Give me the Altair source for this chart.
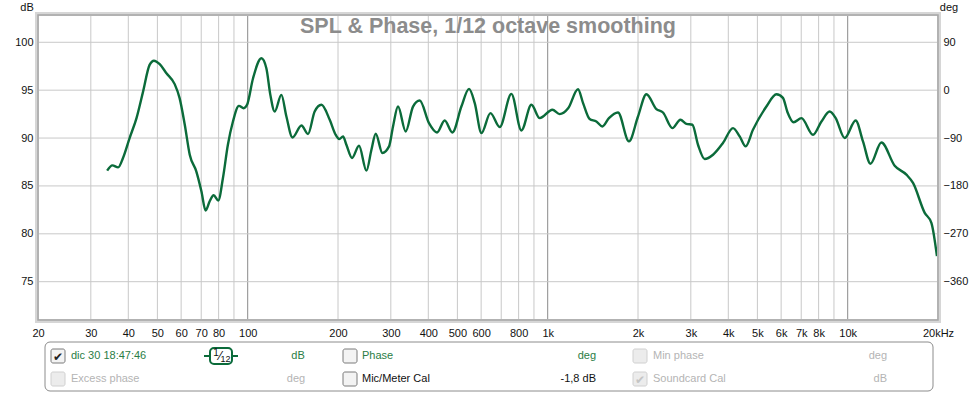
import altair as alt
import pandas as pd

# Measured SPL response (1/12 octave smoothing)
freq_hz = [34.0, 35.4, 37.0, 38.4, 40.4, 42.6, 44.8, 47.1, 48.7, 50.9, 53.6, 57.1,
           59.3, 61.7, 64.1, 67.4, 70.1, 72.4, 74.7, 77.0, 79.8, 82.7, 85.9, 89.3,
           93.5, 97.0, 99.5, 104.2, 111.1, 115.4, 119.0, 123.0, 129.5, 134.6, 141.0,
           151.1, 158.9, 167.2, 176.1, 187.7, 196.0, 202.0, 207.9, 213.3, 222.7,
           235.0, 248.8, 258.5, 267.2, 281.2, 295.9, 305.1, 317.0, 336.3, 355.7,
           374.5, 402.1, 427.6, 453.6, 481.2, 515.6, 546.8, 571.3, 601.4, 644.4,
           691.8, 756.8, 817.2, 882.4, 940.5, 1037, 1096, 1170, 1262, 1312, 1380,
           1453, 1521, 1600, 1715, 1866, 2000, 2133, 2303, 2423, 2605, 2769, 2899,
           3036, 3170, 3337, 3557, 3839, 4147, 4365, 4571, 4833, 5358, 5785, 6084,
           6300, 6600, 7012, 7663, 8175, 8710, 9120, 9772, 10630, 11246, 11907,
           12951, 14343, 15693, 16510, 18060, 19010, 19840]
spl_db = [86.6, 87.15, 86.94, 87.92, 90.0, 92.08, 94.85, 97.64, 98.08, 97.71, 96.77, 95.63,
          94.17, 91.39, 88.26, 86.52, 84.44, 82.43, 83.4, 84.02, 83.47, 85.83, 89.3, 91.73,
          93.36, 93.12, 93.47, 96.25, 98.33, 97.29, 94.51, 92.77, 94.51, 92.25, 90.06,
          91.31, 90.42, 92.77, 93.47, 91.9, 90.4, 89.9, 90.17, 89.3, 87.92,
          89.2, 86.6, 88.78, 90.45, 88.44, 89.13, 91.21, 93.29, 90.69, 93.29,
          93.92, 91.56, 90.58, 91.83, 90.58, 93.29, 95.14, 93.65, 90.52, 92.6,
          91.15, 94.61, 90.79, 93.47, 92.08, 92.95, 92.5, 93.1, 95.1, 93.65, 91.98,
          91.73, 91.21, 92.08, 92.67, 89.65, 92.25, 94.58, 93.02, 92.67, 91.04, 91.91, 91.49,
          91.39, 89.3, 87.81, 88.26, 89.48, 91.04, 90.17, 89.13, 90.86, 93.29, 94.58, 94.2,
          92.7, 91.65, 92.08, 90.34, 91.73, 92.77, 92.08, 90.0, 91.83, 89.65, 87.32,
          89.54, 87.11, 86.18, 85.31, 82.19, 81.15, 77.67]

# Axis ticks and grid positions
x_labels = [20, 30, 40, 50, 60, 70, 80, 100, 200, 300, 400, 500, 600, 800,
            1000, 2000, 3000, 4000, 5000, 6000, 7000, 8000, 10000, 20000]
minor_grid = [30, 40, 50, 60, 70, 80, 90, 200, 300, 400, 500, 600, 700, 800, 900,
              2000, 3000, 4000, 5000, 6000, 7000, 8000, 9000]
decade_grid = [100, 1000, 10000]
db_ticks = [75, 80, 85, 90, 95, 100]
deg_ticks = [90, 0, -90, -180, -270, -360]

DB_DOMAIN = [71.0, 102.85]
DEG_DOMAIN = [(DB_DOMAIN[0] - 95) * 18, (DB_DOMAIN[1] - 95) * 18]

W, H = 900, 305
LEFT, TOP = 38, 15
FONT = "Liberation Sans"
CURVE = "#0b6b3a"
GREEN_TXT = "#2a7d45"
GREY_TXT = "#b4b4b4"

x_scale = alt.Scale(type="log", domain=[20, 20000], nice=False)
y_scale = alt.Scale(domain=DB_DOMAIN, nice=False, zero=False)
one = alt.Data(values=[{}])

x_axis = alt.Axis(
    values=x_labels,
    labelExpr="datum.value >= 20000 ? '20kHz' : (datum.value >= 1000 ? (datum.value / 1000) + 'k' : '' + datum.value)",
    grid=False, domain=False, ticks=False, labelPadding=7, labelFontSize=11,
    labelFont=FONT, labelColor="#111111", labelOverlap=False, labelBound=False,
    labelFlush=False, title=None)
y_axis = alt.Axis(
    values=db_ticks, grid=False, domain=False, ticks=False, labelPadding=5,
    labelFontSize=11, labelFont=FONT, labelColor="#111111", title=None)


def px(x):
    return x - LEFT


def py(y):
    return y - TOP


def text_at(s, x, y, color, size=11, align="left", weight="normal", baseline="middle", font=FONT):
    return alt.Chart(one).mark_text(
        text=s, align=align, baseline=baseline, fontSize=size, color=color,
        font=font, fontWeight=weight
    ).encode(x=alt.value(px(x)), y=alt.value(py(y)))


def box(x0, y0, x1, y1, stroke, fill="white", radius=0, sw=1.0, opacity=1.0):
    return alt.Chart(one).mark_rect(
        stroke=stroke, fill=fill, cornerRadius=radius, strokeWidth=sw, fillOpacity=opacity
    ).encode(x=alt.value(px(x0)), x2=alt.value(px(x1)), y=alt.value(py(y0)), y2=alt.value(py(y1)))


def hline(x0, x1, y, color, sw=1.0):
    return alt.Chart(one).mark_rule(color=color, strokeWidth=sw).encode(
        x=alt.value(px(x0)), x2=alt.value(px(x1)), y=alt.value(py(y)))


def checkbox(x, y, enabled=True, checked=False):
    layers = [box(x, y, x + 14, y + 14,
                  stroke="#7a7a7a" if enabled else "#d0d0d0",
                  fill="#f3f3f3" if enabled else "#ececec", radius=2)]
    if checked:
        layers.append(text_at("\u2714", x + 7, y + 7.5, "#222222" if enabled else "#c4c4c4",
                              size=12, align="center", font="DejaVu Sans"))
    return layers


# Grid (vertical light lines, darker decade lines, horizontal dB lines)
minor = alt.Chart(pd.DataFrame({"f": minor_grid})).mark_rule(color="#c8c8c8", strokeWidth=1).encode(
    x=alt.X("f:Q", scale=x_scale, axis=x_axis))
major = alt.Chart(pd.DataFrame({"f": decade_grid})).mark_rule(color="#8a8a8a", strokeWidth=1).encode(
    x=alt.X("f:Q", scale=x_scale, axis=x_axis))
hgrid = alt.Chart(pd.DataFrame({"spl": db_ticks})).mark_rule(color="#c8c8c8", strokeWidth=1).encode(
    y=alt.Y("spl:Q", scale=y_scale, axis=y_axis))

# SPL curve
curve = alt.Chart(pd.DataFrame({"f": freq_hz, "spl": spl_db})).mark_line(
    color=CURVE, strokeWidth=2.4, interpolate="monotone"
).encode(
    x=alt.X("f:Q", scale=x_scale, axis=x_axis),
    y=alt.Y("spl:Q", scale=y_scale, axis=y_axis),
)

# Plot frame with a soft shadow edge
frame_outer = alt.Chart(one).mark_rect(fillOpacity=0, stroke="#d6d6d6", strokeWidth=4).encode(
    x=alt.value(-1), x2=alt.value(W + 1), y=alt.value(-1), y2=alt.value(H + 1))
frame_inner = alt.Chart(one).mark_rect(fillOpacity=0, stroke="#a6a6a6", strokeWidth=1.5).encode(
    x=alt.value(0), x2=alt.value(W), y=alt.value(0), y2=alt.value(H))

title = text_at("SPL & Phase, 1/12 octave smoothing", 488, 33, "#8c8c8c", size=21.5,
                align="center", weight="bold", baseline="alphabetic")
db_title = text_at("dB", 27, 8, "#111111", size=11, align="center")
deg_title = text_at("deg", 949, 8, "#111111", size=11, align="center")

# Legend panel
legend = [box(45, 342, 933, 391, stroke="#8c8c8c", radius=5)]
legend += checkbox(51, 349, enabled=True, checked=True)
legend += [text_at("dic 30 18:47:46", 71, 356, GREEN_TXT)]
legend += [hline(204, 238, 356, CURVE, 2),
           box(210, 348, 232, 364, stroke=CURVE, radius=4, sw=2),
           text_at("1", 216, 353, "#111111", size=10, align="center"),
           text_at("\u2044", 220, 356, "#111111", size=12, align="center", font="DejaVu Sans"),
           text_at("12", 225.5, 359, "#111111", size=9, align="center")]
legend += [text_at("dB", 298, 356, GREEN_TXT, align="center")]
legend += checkbox(343, 349)
legend += [text_at("Phase", 362, 356, GREEN_TXT),
           text_at("deg", 596, 356, GREEN_TXT, align="right")]
legend += checkbox(633, 349, enabled=False)
legend += [text_at("Min phase", 653, 356, GREY_TXT),
           text_at("deg", 887, 356, GREY_TXT, align="right")]

legend += checkbox(51, 372, enabled=False)
legend += [text_at("Excess phase", 71, 379, GREY_TXT),
           text_at("deg", 296, 379, GREY_TXT, align="center")]
legend += checkbox(343, 372)
legend += [text_at("Mic/Meter Cal", 362, 379, "#111111"),
           text_at("-1,8 dB", 596, 379, "#111111", align="right")]
legend += checkbox(633, 372, enabled=False, checked=True)
legend += [text_at("Soundcard Cal", 653, 379, GREY_TXT),
           text_at("dB", 887, 379, GREY_TXT, align="right")]

base = alt.layer(minor, major, hgrid, curve, frame_outer, frame_inner,
                 title, db_title, deg_title, *legend)

# Phase axis on the right (shares the vertical pixel range with dB)
deg_axis = alt.Chart(pd.DataFrame({"deg": deg_ticks})).mark_point(opacity=0).encode(
    y=alt.Y("deg:Q", scale=alt.Scale(domain=DEG_DOMAIN, nice=False, zero=False),
            axis=alt.Axis(orient="right", values=deg_ticks, grid=False, domain=False, ticks=False,
                          labelPadding=5, labelFontSize=11, labelFont=FONT,
                          labelColor="#111111", title=None)))

chart = alt.layer(base, deg_axis).resolve_scale(y="independent").properties(
    width=W, height=H,
    autosize=alt.AutoSizeParams(type="none"),
    padding={"left": LEFT, "top": TOP, "right": 977 - LEFT - W, "bottom": 393 - TOP - H},
    background="white",
).configure_view(stroke=None)

chart.save("out.html", embed_options={"renderer": "svg", "actions": False})
